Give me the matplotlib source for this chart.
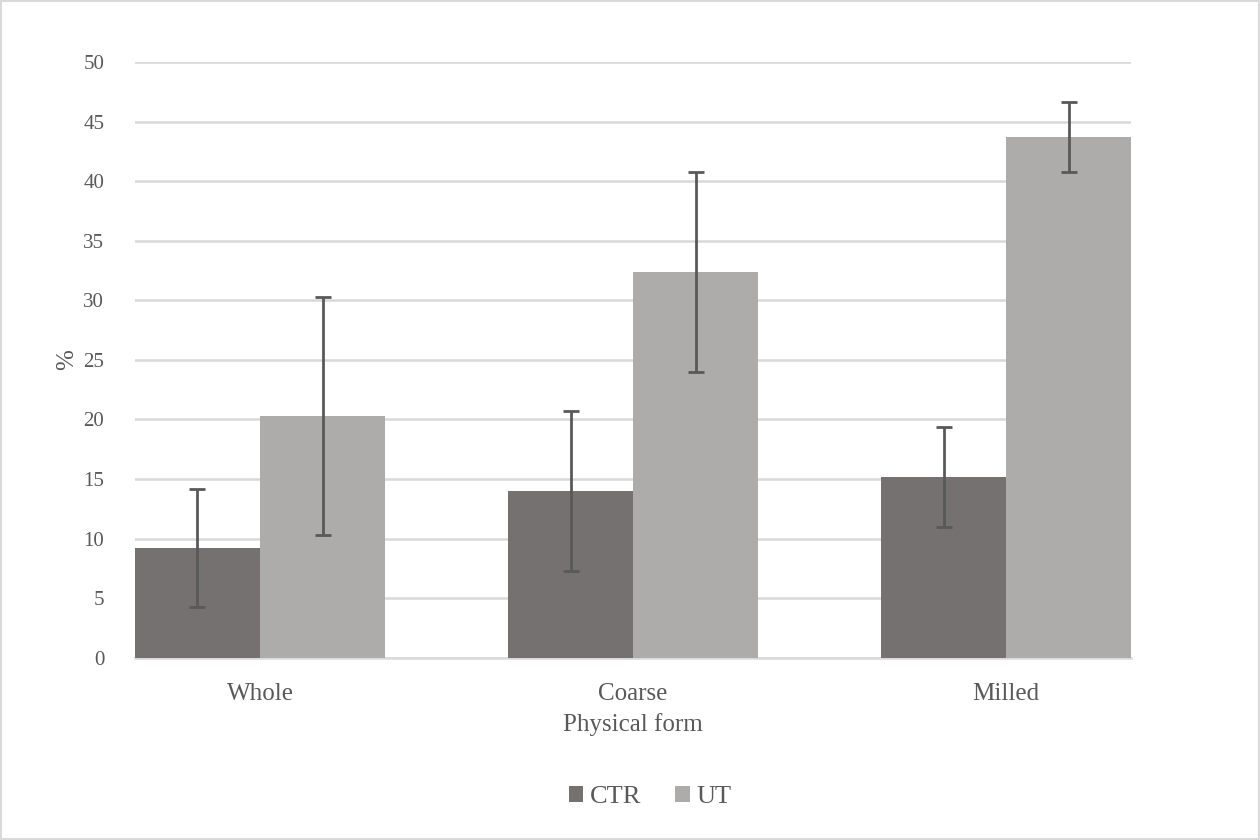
import numpy as np
import matplotlib.pyplot as plt
from matplotlib.patches import Rectangle

plt.rcParams['font.family'] = ['Liberation Serif', 'DejaVu Serif']

# data
forms = ['Whole', 'Coarse', 'Milled']
ctr = [9.2, 14.0, 15.2]
ctr_err = [4.95, 6.7, 4.2]
ut = [20.3, 32.4, 43.7]
ut_err = [10.0, 8.4, 2.95]

x = np.arange(len(forms))
w = 0.3356

fig = plt.figure(figsize=(12.6, 8.4), dpi=100)
ax = fig.add_axes([0.107, 0.217, 0.791, 0.709])

err_kw = dict(ecolor='#595959', elinewidth=2, capsize=5.5, capthick=2)
ax.bar(x - w/2, ctr, w, yerr=ctr_err, color='#767171', label='CTR', error_kw=err_kw, zorder=3)
ax.bar(x + w/2, ut, w, yerr=ut_err, color='#AEABAB', label='UT', error_kw=err_kw, zorder=3)

ax.set_xlim(-w, len(forms) - 1 + w)
ax.set_ylim(0, 50)
ax.set_yticks(np.arange(0, 51, 5))
ax.grid(axis='y', color='#D9D9D9', linewidth=1.8, zorder=0)
ax.set_axisbelow(True)
for s in ['top', 'right', 'left']:
    ax.spines[s].set_visible(False)
ax.spines['bottom'].set_color('#D9D9D9')
ax.spines['bottom'].set_linewidth(1.8)
ax.tick_params(length=0, colors='#595959')
ax.tick_params(axis='y', labelsize=15, pad=22)
ax.set_xticks(x)
ax.set_xticklabels(forms, fontsize=18)
ax.tick_params(axis='x', pad=18)
ax.set_xlabel('Physical form', fontsize=18, color='#595959', labelpad=6)
ax.set_ylabel('%', fontsize=18, color='#595959', labelpad=4)

leg = fig.legend(loc='center', bbox_to_anchor=(0.516, 0.051), ncol=2, frameon=False,
                 fontsize=19, handlelength=0.55, handleheight=0.55, handletextpad=0.25,
                 columnspacing=1.3, labelcolor='#595959')

fig.patches.append(Rectangle((0.001, 0.001), 0.998, 0.998, transform=fig.transFigure,
                             fill=False, edgecolor='#D9D9D9', linewidth=1.5))

fig.savefig('out.png')
